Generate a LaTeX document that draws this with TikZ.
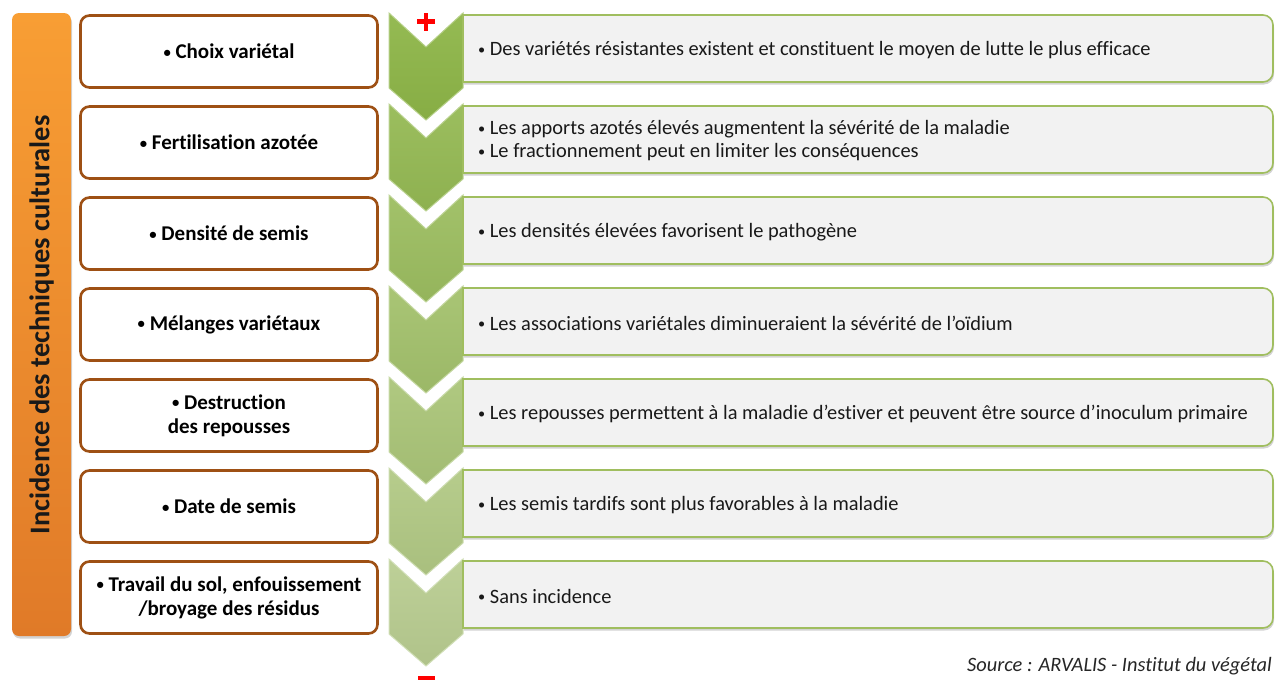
\documentclass[tikz,border=0pt]{standalone}
\usepackage{fontspec}
\setmainfont{Carlito}[Ligatures=NoCommon]
\usetikzlibrary{shadows}
\definecolor{brownb}{RGB}{158,80,20}
\definecolor{greenb}{RGB}{160,190,95}
\definecolor{boxfill}{RGB}{242,242,242}
\definecolor{chevA}{RGB}{142,182,72}
\definecolor{chevB}{RGB}{185,205,145}
\definecolor{orangeT}{RGB}{248,158,52}
\definecolor{orangeB}{RGB}{224,122,40}
\newcommand{\bul}{\raisebox{0.12ex}{\scalebox{0.7}{•}}}
\tikzset{
  leftbox/.style={draw=brownb, line width=2.6pt, rounded corners=9pt, fill=white,
    minimum width=297pt, minimum height=72pt, align=center, inner sep=0pt,
    font=\fontsize{21}{24}\selectfont\bfseries},
  righttext/.style={anchor=west, align=left, inner sep=0pt,
    font=\fontsize{20.4}{23}\selectfont, text=black!90},
  rightbox/.style={draw=greenb, line width=1.6pt, fill=boxfill,
    drop shadow={shadow xshift=1pt, shadow yshift=-2.5pt, opacity=0.35}},
  barshape/.style={rounded corners=7pt, top color=orangeT, bottom color=orangeB,
    drop shadow={shadow xshift=1pt, shadow yshift=-2.5pt, opacity=0.35}},
  redmark/.style={fill=red, draw=none}
}
\newcommand{\techrow}[3]{%
  \pgfmathsetmacro{\rowtop}{13+91*(#1-1)}%
  \pgfmathsetmacro{\mix}{(#1-1)*100/6}%
  % chevron
  \colorlet{chevC}{chevB!\mix!chevA}%
  \path[top color=chevC!94!white, bottom color=chevC!95!black, draw=chevC!65!white, line width=1pt]
    (389,\rowtop) -- (426,\rowtop+34) -- (463,\rowtop) -- (463,\rowtop+75) -- (426,\rowtop+107) -- (389,\rowtop+75) -- cycle;
  % right box
  \path[rightbox] (463,\rowtop+2) -- (1263,\rowtop+2) .. controls (1268.5,\rowtop+2) and (1273,\rowtop+6.5) .. (1273,\rowtop+12)
    -- (1273,\rowtop+59) .. controls (1273,\rowtop+64.5) and (1268.5,\rowtop+69) .. (1263,\rowtop+69) -- (463,\rowtop+69) -- cycle;
  \node[righttext] (r#1) at (478,\rowtop+37) {#3};
  % left box
  \node[leftbox] (l#1) at (229,\rowtop+38.5) {#2};
}
\begin{document}
\begin{tikzpicture}[x=1pt,y=-1pt]
\useasboundingbox (0,0) rectangle (1275,680);
\clip (0,0) rectangle (1275,680);
% orange bar
\path[barshape] (12,13) rectangle (71,636);
\node[rotate=90, font=\fontsize{28.5}{29}\selectfont\bfseries, text=black!90] (title) at (41.5,325) {Incidence des techniques culturales};
\techrow{1}{\bul\ Choix variétal}{\bul\ Des variétés résistantes existent et constituent le moyen de lutte le plus efficace}
\techrow{2}{\bul\ Fertilisation azotée}{\bul\ Les apports azotés élevés augmentent la sévérité de la maladie\\\bul\ Le fractionnement peut en limiter les conséquences}
\techrow{3}{\bul\ Densité de semis}{\bul\ Les densités élevées favorisent le pathogène}
\techrow{4}{\bul\ Mélanges variétaux}{\bul\ Les associations variétales diminueraient la sévérité de l’oïdium}
\techrow{5}{\bul\ Destruction\\des repousses}{\bul\ Les repousses permettent à la maladie d’estiver et peuvent être source d’inoculum primaire}
\techrow{6}{\bul\ Date de semis}{\bul\ Les semis tardifs sont plus favorables à la maladie}
\techrow{7}{\bul\ Travail du sol, enfouissement\\/broyage des résidus}{\bul\ Sans incidence}
% plus and minus marks
\fill[redmark] (416.5,19) rectangle (434.5,24);
\fill[redmark] (423.5,12.5) rectangle (428,31);
\fill[redmark] (418,676) rectangle (435,684);
% source
\node[anchor=east, inner sep=0pt, font=\fontsize{20.4}{22}\selectfont\itshape, text=black!85] (src) at (1272,666) {Source : ARVALIS - Institut du végétal};
\end{tikzpicture}
\end{document}
